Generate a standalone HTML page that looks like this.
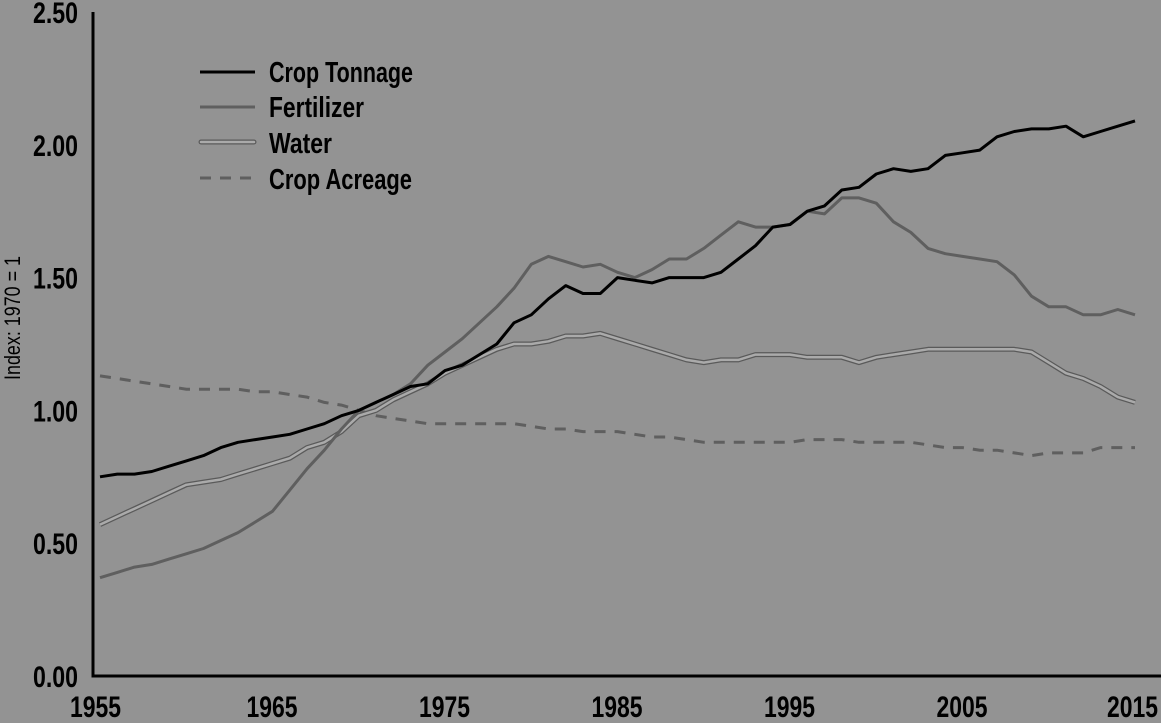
<!DOCTYPE html>
<html><head><meta charset="utf-8"><style>
html,body{margin:0;padding:0;background:#939393;}
svg{display:block;font-family:"Liberation Sans Narrow","Liberation Sans",sans-serif;}
</style></head><body>
<svg id="chart" width="1161" height="723" viewBox="0 0 1161 723" xmlns="http://www.w3.org/2000/svg">
<rect width="1161" height="723" fill="#939393"/>
<g id="plot"></g>
<g id="axes"></g>
<text transform="translate(20,318) rotate(-90)" text-anchor="middle" font-size="22" fill="#000" textLength="124" lengthAdjust="spacingAndGlyphs">Index: 1970 = 1</text>
<g>
 <g>
  <line x1="200" y1="72" x2="255" y2="72" stroke="#000" stroke-width="3"/>
  <text x="269" y="82" font-size="29" font-weight="bold" textLength="144" lengthAdjust="spacingAndGlyphs">Crop Tonnage</text>
 </g>
 <g>
  <line x1="200" y1="107" x2="255" y2="107" stroke="#5f5f5f" stroke-width="3"/>
  <text x="269" y="117" font-size="29" font-weight="bold" textLength="95" lengthAdjust="spacingAndGlyphs">Fertilizer</text>
 </g>
 <g>
  <line x1="201" y1="142" x2="254" y2="142" stroke="#5a5a5a" stroke-width="5" stroke-linecap="round"/>
  <line x1="201" y1="142" x2="254" y2="142" stroke="#aaa" stroke-width="2.5" stroke-linecap="round"/>
  <text x="269" y="153" font-size="29" font-weight="bold" textLength="63" lengthAdjust="spacingAndGlyphs">Water</text>
 </g>
 <g>
  <line x1="200" y1="178" x2="255" y2="178" stroke="#5f5f5f" stroke-width="3" stroke-dasharray="11,9"/>
  <text x="269" y="189" font-size="29" font-weight="bold" textLength="143" lengthAdjust="spacingAndGlyphs">Crop Acreage</text>
 </g>
</g>
</svg>
<script>
const years = [];
for (let y = 1955; y <= 2015; y++) years.push(y);
const cropTonnage = [.75,.76,.76,.77,.79,.81,.83,.86,.88,.89,.90,.91,.93,.95,.98,1.00,1.03,1.06,1.09,1.10,1.15,1.17,1.21,1.25,1.33,1.36,1.42,1.47,1.44,1.44,1.50,1.49,1.48,1.50,1.50,1.50,1.52,1.57,1.62,1.69,1.70,1.75,1.77,1.83,1.84,1.89,1.91,1.90,1.91,1.96,1.97,1.98,2.03,2.05,2.06,2.06,2.07,2.03,2.05,2.07,2.09];
const fertilizer = [.37,.39,.41,.42,.44,.46,.48,.51,.54,.58,.62,.70,.78,.85,.93,1.00,1.03,1.06,1.10,1.17,1.22,1.27,1.33,1.39,1.46,1.55,1.58,1.56,1.54,1.55,1.52,1.50,1.53,1.57,1.57,1.61,1.66,1.71,1.69,1.69,1.70,1.75,1.74,1.80,1.80,1.78,1.71,1.67,1.61,1.59,1.58,1.57,1.56,1.51,1.43,1.39,1.39,1.36,1.36,1.38,1.36];
const water = [.57,.60,.63,.66,.69,.72,.73,.74,.76,.78,.80,.82,.86,.88,.92,.98,1.00,1.04,1.07,1.10,1.14,1.17,1.20,1.23,1.25,1.25,1.26,1.28,1.28,1.29,1.27,1.25,1.23,1.21,1.19,1.18,1.19,1.19,1.21,1.21,1.21,1.20,1.20,1.20,1.18,1.20,1.21,1.22,1.23,1.23,1.23,1.23,1.23,1.23,1.22,1.18,1.14,1.12,1.09,1.05,1.03];
const cropAcreage = [1.13,1.12,1.11,1.10,1.09,1.08,1.08,1.08,1.08,1.07,1.07,1.06,1.05,1.03,1.02,1.00,.98,.97,.96,.95,.95,.95,.95,.95,.95,.94,.93,.93,.92,.92,.92,.91,.90,.90,.89,.88,.88,.88,.88,.88,.88,.89,.89,.89,.88,.88,.88,.88,.87,.86,.86,.85,.85,.84,.83,.84,.84,.84,.86,.86,.86];
const yTicks = [0, 0.5, 1, 1.5, 2, 2.5];
const yTickLabels = ["0.00","0.50","1.00","1.50","2.00","2.50"];
const xTicks = [1955,1965,1975,1985,1995,2005,2015];
const xTickLabels = ["1955","1965","1975","1985","1995","2005","2015"];

const NS = "http://www.w3.org/2000/svg";
const xS = yr => 100 + (yr - 1955) * (1035 / 60);
const yS = v => 676 - v * 265.6;
const plot = document.getElementById('plot');
const axes = document.getElementById('axes');
function mk(tag, attrs, parent) {
  const e = document.createElementNS(NS, tag);
  for (const k in attrs) e.setAttribute(k, attrs[k]);
  parent.appendChild(e);
  return e;
}
function pathD(vals) {
  return vals.map((v, i) => (i ? 'L' : 'M') + xS(years[i]).toFixed(1) + ',' + yS(v).toFixed(1)).join('');
}
let p;
p = mk('path', {d: pathD(cropAcreage), fill: 'none', stroke: '#5f5f5f', 'stroke-width': 3, 'stroke-dasharray': '11,9'}, plot);


p = mk('path', {d: pathD(water), fill: 'none', stroke: '#5a5a5a', 'stroke-width': 5, 'stroke-linejoin': 'round'}, plot);


p = mk('path', {d: pathD(water), fill: 'none', stroke: '#aaa', 'stroke-width': 2.5, 'stroke-linejoin': 'round'}, plot);


p = mk('path', {d: pathD(fertilizer), fill: 'none', stroke: '#5f5f5f', 'stroke-width': 3, 'stroke-linejoin': 'round'}, plot);


p = mk('path', {d: pathD(cropTonnage), fill: 'none', stroke: '#000', 'stroke-width': 3, 'stroke-linejoin': 'round'}, plot);



let a = mk('line', {x1: 93, y1: 12, x2: 93, y2: 677.5, stroke: '#000', 'stroke-width': 3}, axes);


a = mk('line', {x1: 91.5, y1: 676, x2: 1161, y2: 676, stroke: '#000', 'stroke-width': 3}, axes);


yTicks.forEach((v, i) => {
  const t = mk('text', {x: 78, y: yS(v) + 11, 'text-anchor': 'end', 'font-size': 30, 'font-weight': 'bold', textLength: 45, lengthAdjust: 'spacingAndGlyphs'}, axes);
  t.textContent = yTickLabels[i];
  
  
});
xTicks.forEach((v, i) => {
  const t = mk('text', {x: xS(v) - 26 - (i === 0 ? 4 : 0) - (i === xTicks.length-1 ? 2 : 0), y: 717, 'font-size': 30, 'font-weight': 'bold', textLength: 51, lengthAdjust: 'spacingAndGlyphs'}, axes);
  t.textContent = xTickLabels[i];
  
  
});
</script>
</body></html>
